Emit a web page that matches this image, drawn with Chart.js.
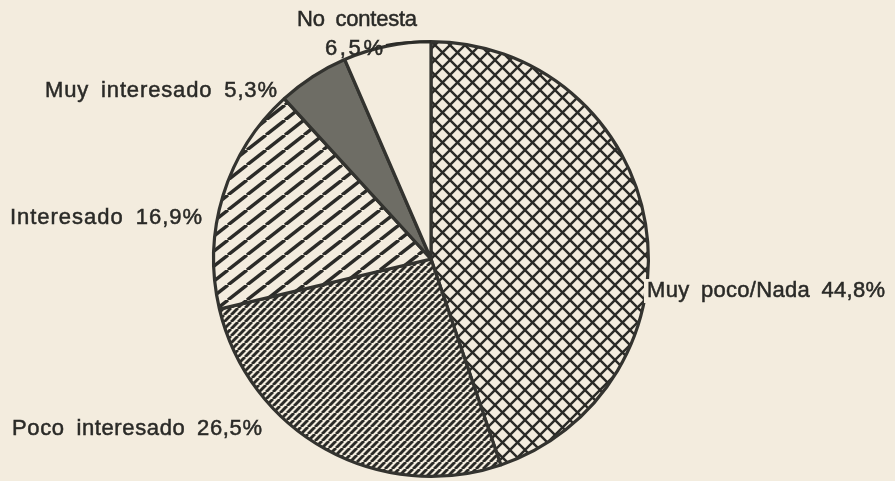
<!DOCTYPE html>
<html>
<head>
<meta charset="utf-8">
<script src="https://cdn.jsdelivr.net/npm/chart.js@4/dist/chart.umd.min.js"></script>
<style>
  html, body { margin: 0; padding: 0; background: #f3ecde; }
  #wrap { width: 895px; height: 481px; position: relative; }
</style>
</head>
<body>
<div id="wrap"><canvas id="c" width="895" height="481"></canvas></div>
<script>
// ---- data ----
const categories = ["Muy poco/Nada", "Poco interesado", "Interesado", "Muy interesado", "No contesta"];
const values = [44.8, 26.5, 16.9, 5.3, 6.5];
const valueLabels = ["44,8%", "26,5%", "16,9%", "5,3%", "6,5%"];

// ---- styling ----
const PAPER = "#f3ecde";
const INK = "#2a2a27";

function makePattern(w, h, drawFn) {
  const off = document.createElement("canvas");
  off.width = w; off.height = h;
  const g = off.getContext("2d");
  g.fillStyle = PAPER;
  g.fillRect(0, 0, w, h);
  g.strokeStyle = INK;
  drawFn(g, w, h);
  return document.getElementById("c").getContext("2d").createPattern(off, "repeat");
}
function slash(g, w, h, lw) {
  g.lineWidth = lw;
  for (const dx of [-w, 0, w]) {
    g.beginPath();
    g.moveTo(dx, h); g.lineTo(dx + w, 0);
    g.stroke();
  }
}
const crossHatch = makePattern(15, 15, (g, w, h) => {
  g.lineWidth = 2.4;
  for (const dx of [-w, 0, w]) {
    g.beginPath(); g.moveTo(dx, h); g.lineTo(dx + w, 0); g.stroke();
    g.beginPath(); g.moveTo(dx, 0); g.lineTo(dx + w, h); g.stroke();
  }
});
const fineHatch = makePattern(7, 7, (g, w, h) => slash(g, w, h, 2.9));
const wideHatch = makePattern(19, 15, (g, w, h) => slash(g, w, h, 3.4));
const fills = [crossHatch, fineHatch, wideHatch, "#6e6d65", PAPER];

// label layout: [text, left x, baseline y, target width]
const labelLayout = [
  [categories[0] + " " + valueLabels[0], 647, 297, 238],
  [categories[1] + " " + valueLabels[1], 12, 435, 250],
  [categories[2] + " " + valueLabels[2], 10, 224, 192],
  [categories[3] + " " + valueLabels[3], 45, 97, 232],
  [categories[4], 297, 26, 120],
  [valueLabels[4], 325, 55, 58]
];

function drawSpaced(ctx, text, x, y, targetW) {
  const chars = [...text];
  const wordExtra = 5;
  let natural = 0, spaces = 0;
  chars.forEach(ch => { natural += ctx.measureText(ch).width; if (ch === " ") spaces++; });
  const gaps = Math.max(chars.length - 1, 1);
  const ls = (targetW - natural - spaces * wordExtra) / gaps;
  let cx = x;
  chars.forEach(ch => {
    ctx.fillText(ch, cx, y);
    ctx.strokeText(ch, cx, y);
    cx += ctx.measureText(ch).width + ls + (ch === " " ? wordExtra : 0);
  });
}

const labelPlugin = {
  id: "labels",
  afterDraw(chart) {
    const ctx = chart.ctx;
    const arc = chart.getDatasetMeta(0).data[0];
    const cx = arc.x, cy = arc.y, r = arc.outerRadius;
    ctx.save();
    ctx.font = "22px 'Liberation Sans', Arial, sans-serif";
    ctx.textBaseline = "alphabetic";
    ctx.textAlign = "left";
    // gap in outline behind right label
    ctx.fillStyle = PAPER;
    ctx.fillRect(644, 279, 8, 24);
    ctx.fillStyle = INK;
    ctx.strokeStyle = INK;
    ctx.lineWidth = 0.5;
    labelLayout.forEach(([t, x, y, w]) => drawSpaced(ctx, t, x, y, w));
    // leader line for "No contesta 6,5%"
    ctx.lineWidth = 2;
    ctx.beginPath();
    ctx.moveTo(386, 45);
    ctx.quadraticCurveTo(405, 41, cx, cy - r);
    ctx.stroke();
    ctx.restore();
  }
};

new Chart(document.getElementById("c"), {
  type: "pie",
  data: {
    labels: categories,
    datasets: [{
      data: values,
      backgroundColor: fills,
      borderColor: "#33332f",
      borderWidth: 3.2
    }]
  },
  options: {
    responsive: false,
    animation: false,
    devicePixelRatio: 1,
    layout: { padding: { top: 39, bottom: 2, left: 212, right: 245 } },
    plugins: { legend: { display: false }, tooltip: { enabled: false } }
  },
  plugins: [labelPlugin]
});
</script>
</body>
</html>
